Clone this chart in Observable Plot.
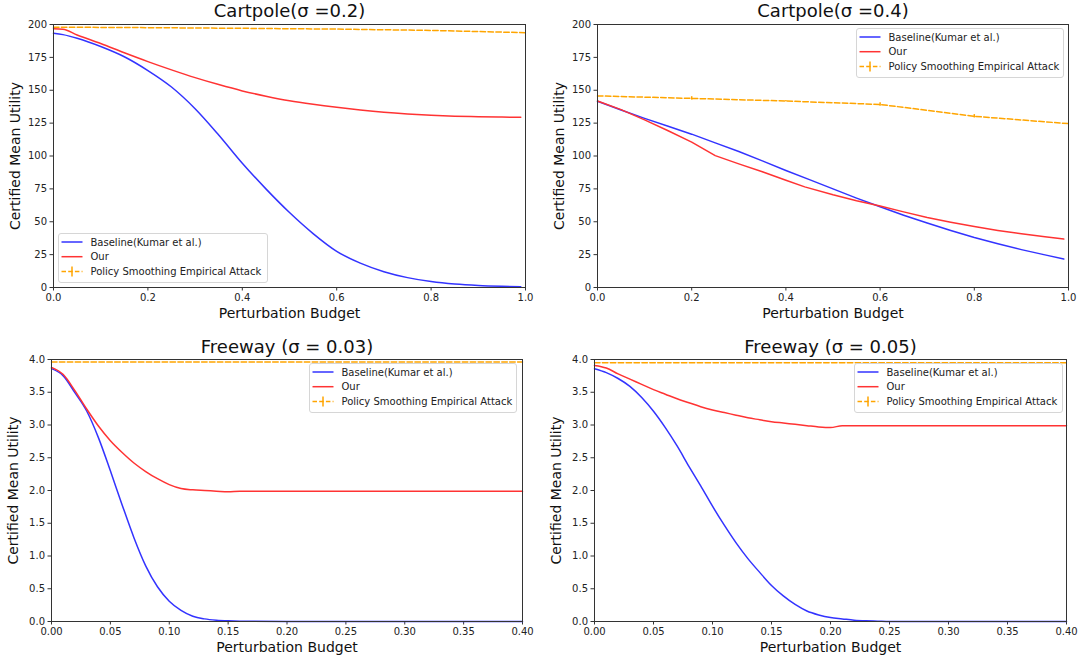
<!DOCTYPE html>
<html>
<head>
<meta charset="utf-8">
<script src="https://cdn.jsdelivr.net/npm/d3@7"></script>
<script src="https://cdn.jsdelivr.net/npm/@observablehq/plot@0.6"></script>
<style>
  html, body { margin: 0; padding: 0; background: #fff; }
  #page { position: relative; width: 1080px; height: 662px; overflow: hidden; background: #fff; font-family: "DejaVu Sans", sans-serif; }
  .panel { position: absolute; }
  .legend { position: absolute; }
</style>
</head>
<body>
<div id="page"></div>
<script>
// ---------------- data ----------------
const legendLabels = ["Baseline(Kumar et al.)", "Our", "Policy Smoothing Empirical Attack"];
const xLabel = "Perturbation Budget";
const yLabel = "Certified Mean Utility";

// Cartpole sigma = 0.2
const cp02Title = "Cartpole(σ =0.2)";
const cp02X = [0, 0.02, 0.05, 0.1, 0.15, 0.2, 0.25, 0.3, 0.35, 0.4, 0.45, 0.5, 0.55, 0.6, 0.65, 0.7, 0.75, 0.8, 0.85, 0.9, 0.95, 0.99];
const cp02Baseline = [193.4, 192.3, 189.6, 183.3, 175.5, 165.0, 152.5, 136, 116, 94.5, 75, 57, 41, 27.5, 18.5, 12, 7.5, 4.5, 2.6, 1.5, 0.9, 0.6];
const cp02Ours = [196.7, 196.4, 192, 185.5, 178.5, 171.8, 165.5, 159.6, 154.3, 149.5, 145.5, 142, 139.3, 137, 135, 133.3, 132, 131, 130.3, 129.9, 129.6, 129.5];
const cp02AttackX = [0, 0.2, 0.4, 0.6, 0.8, 1.0];
const cp02Attack = [198, 197.6, 197.1, 196.5, 195.5, 193.8];
const cp02AttackErr = [0, 0, 0, 0, 0, 0];

// Cartpole sigma = 0.4
const cp04Title = "Cartpole(σ =0.4)";
const cp04X = [0, 0.05, 0.1, 0.15, 0.2, 0.25, 0.3, 0.35, 0.4, 0.45, 0.5, 0.55, 0.6, 0.65, 0.7, 0.75, 0.8, 0.85, 0.9, 0.95, 0.99];
const cp04Baseline = [141.6, 135, 128.6, 122.6, 116.6, 110, 103.4, 96.3, 89, 82, 75, 68, 61.4, 55, 49, 43.3, 38, 33.2, 28.8, 24.8, 21.6];
const cp04OursX = [0, 0.05, 0.1, 0.15, 0.2, 0.25, 0.3, 0.35, 0.4, 0.44, 0.5, 0.55, 0.6, 0.65, 0.7, 0.75, 0.8, 0.85, 0.9, 0.95, 0.99];
const cp04Ours = [141.8, 135.3, 127.5, 119.2, 110.6, 100.3, 94, 88, 81.5, 76.5, 70.5, 66, 62, 57.5, 53.3, 49.7, 46.4, 43.4, 40.8, 38.6, 36.8];
const cp04AttackX = [0, 0.2, 0.4, 0.6, 0.8, 1.0];
const cp04Attack = [145.7, 143.8, 141.8, 139.2, 130.2, 124.6];
const cp04AttackErr = [0, 1.3, 0.5, 1.3, 1.3, 0];

// Freeway sigma = 0.03
const fw03Title = "Freeway (σ = 0.03)";
const fw03X = [0, 0.01, 0.02, 0.03, 0.04, 0.05, 0.06, 0.07, 0.08, 0.09, 0.10, 0.11, 0.12, 0.13, 0.14, 0.15, 0.16, 0.20, 0.25, 0.30, 0.35, 0.40];
const fw03Baseline = [3.86, 3.75, 3.49, 3.21, 2.80, 2.30, 1.78, 1.28, 0.85, 0.53, 0.31, 0.17, 0.08, 0.04, 0.02, 0.01, 0.005, 0, 0, 0, 0, 0];
const fw03Ours = [3.88, 3.77, 3.52, 3.24, 2.98, 2.76, 2.58, 2.42, 2.29, 2.18, 2.09, 2.03, 2.01, 2.0, 1.99, 1.98, 1.99, 1.99, 1.99, 1.99, 1.99, 1.99];
const fw03AttackX = [0, 0.1, 0.2, 0.3, 0.4];
const fw03Attack = [3.96, 3.96, 3.96, 3.96, 3.96];
const fw03AttackErr = [0, 0, 0, 0, 0];

// Freeway sigma = 0.05
const fw05Title = "Freeway (σ = 0.05)";
const fw05X = [0, 0.01, 0.02, 0.03, 0.04, 0.05, 0.06, 0.07, 0.08, 0.09, 0.10, 0.11, 0.12, 0.13, 0.14, 0.15, 0.16, 0.17, 0.18, 0.19, 0.20, 0.21, 0.22, 0.23, 0.24, 0.25, 0.30, 0.35, 0.40];
const fw05Baseline = [3.86, 3.80, 3.71, 3.59, 3.42, 3.21, 2.96, 2.68, 2.37, 2.07, 1.76, 1.47, 1.20, 0.96, 0.75, 0.55, 0.39, 0.26, 0.16, 0.10, 0.06, 0.04, 0.02, 0.01, 0.005, 0, 0, 0, 0];
const fw05Ours = [3.91, 3.87, 3.78, 3.70, 3.62, 3.54, 3.47, 3.40, 3.34, 3.28, 3.23, 3.19, 3.15, 3.11, 3.08, 3.05, 3.03, 3.01, 2.99, 2.97, 2.96, 2.99, 2.99, 2.99, 2.99, 2.99, 2.99, 2.99, 2.99];
const fw05AttackX = [0, 0.1, 0.2, 0.3, 0.4];
const fw05Attack = [3.95, 3.95, 3.95, 3.95, 3.95];
const fw05AttackErr = [0, 0, 0, 0, 0];

// ticks
const cartXTicks = [0, 0.2, 0.4, 0.6, 0.8, 1.0];
const cartYTicks = [0, 25, 50, 75, 100, 125, 150, 175, 200];
const freeXTicks = [0, 0.05, 0.10, 0.15, 0.20, 0.25, 0.30, 0.35, 0.40];
const freeYTicks = [0, 0.5, 1.0, 1.5, 2.0, 2.5, 3.0, 3.5, 4.0];

// ---------------- styles ----------------
const BLUE = "rgb(51,51,255)";
const RED = "rgb(255,51,51)";
const ORANGE = "#ffa500";
const DASH = "5.5,2.4";
const page = document.getElementById("page");

const zip = (xs, ys) => xs.map((x, i) => ({x, y: ys[i]}));

function panel(cfg) {
  const base = zip(cfg.x, cfg.baseline);
  const ours = zip(cfg.oursX || cfg.x, cfg.ours);
  const atk = cfg.attackX.map((x, i) => ({x, y: cfg.attack[i], e: cfg.attackErr[i]}));
  const errs = atk.filter(d => d.e > 0);
  const chart = Plot.plot({
    width: cfg.width, height: cfg.height,
    marginLeft: cfg.ml, marginRight: cfg.mr, marginTop: cfg.mt, marginBottom: cfg.mb,
    style: {fontFamily: "DejaVu Sans", fontSize: "10px", color: "#222", background: "white", overflow: "visible"},
    x: {domain: cfg.xDomain, nice: false},
    y: {domain: cfg.yDomain, nice: false},
    marks: [
      Plot.axisX({ticks: cfg.xTicks, tickFormat: d3.format(cfg.xFmt), tickSize: 3.5, tickPadding: 3, label: null, stroke: "#333", fill: "#222"}),
      Plot.axisY({ticks: cfg.yTicks, tickFormat: d3.format(cfg.yFmt), tickSize: 3.5, tickPadding: 3, label: null, stroke: "#333", fill: "#222"}),
      Plot.line(atk, {x: "x", y: "y", stroke: ORANGE, strokeWidth: 1.5, strokeDasharray: DASH}),
      Plot.ruleX(errs, {x: "x", y1: d => d.y - d.e, y2: d => d.y + d.e, stroke: ORANGE, strokeWidth: 1.5}),
      Plot.line(base, {x: "x", y: "y", stroke: BLUE, strokeWidth: 1.5, curve: cfg.curve}),
      Plot.line(ours, {x: "x", y: "y", stroke: RED, strokeWidth: 1.5, curve: cfg.curve}),
      Plot.frame({stroke: "#333", strokeWidth: 1}),
      Plot.text([cfg.title], {text: d => d, frameAnchor: "top", lineAnchor: "middle", textAnchor: "middle", dy: cfg.titleDy, fontSize: 18, fill: "#111"}),
      Plot.text([xLabel], {text: d => d, frameAnchor: "bottom", lineAnchor: "middle", textAnchor: "middle", dy: 26.5, fontSize: 14, fill: "#111"}),
      Plot.text([yLabel], {text: d => d, frameAnchor: "left", lineAnchor: "middle", textAnchor: "middle", dx: -38, rotate: -90, fontSize: 14, fill: "#111"})
    ]
  });
  chart.classList.add("panel");
  chart.style.left = cfg.left + "px";
  chart.style.top = cfg.top + "px";
  page.appendChild(chart);
}

function legend(left, top, width) {
  const h = 49;
  const ns = "http://www.w3.org/2000/svg";
  const svg = document.createElementNS(ns, "svg");
  svg.setAttribute("width", width + 2);
  svg.setAttribute("height", h + 2);
  svg.setAttribute("class", "legend");
  svg.style.left = left + "px";
  svg.style.top = top + "px";
  const rect = document.createElementNS(ns, "rect");
  rect.setAttribute("x", 0.5); rect.setAttribute("y", 0.5);
  rect.setAttribute("width", width); rect.setAttribute("height", h);
  rect.setAttribute("rx", 2.5);
  rect.setAttribute("fill", "rgba(255,255,255,0.8)");
  rect.setAttribute("stroke", "#d6d6d6");
  svg.appendChild(rect);
  const rows = [9, 23.7, 38.5];
  const colors = [BLUE, RED, ORANGE];
  legendLabels.forEach((lab, i) => {
    const y = rows[i];
    const ln = document.createElementNS(ns, "line");
    ln.setAttribute("x1", 3.5); ln.setAttribute("x2", 24.5);
    ln.setAttribute("y1", y); ln.setAttribute("y2", y);
    ln.setAttribute("stroke", colors[i]); ln.setAttribute("stroke-width", 1.5);
    if (i === 2) ln.setAttribute("stroke-dasharray", "4.5,2.2");
    svg.appendChild(ln);
    if (i === 2) {
      const v = document.createElementNS(ns, "line");
      v.setAttribute("x1", 14); v.setAttribute("x2", 14);
      v.setAttribute("y1", y - 5); v.setAttribute("y2", y + 5);
      v.setAttribute("stroke", colors[i]); v.setAttribute("stroke-width", 1.5);
      svg.appendChild(v);
    }
    const t = document.createElementNS(ns, "text");
    t.setAttribute("x", 32.5); t.setAttribute("y", y + 3.6);
    t.setAttribute("font-family", "DejaVu Sans");
    t.setAttribute("font-size", "10px");
    t.setAttribute("fill", "#222");
    t.textContent = lab;
    svg.appendChild(t);
  });
  page.appendChild(svg);
}

panel({title: cp02Title, left: 0, top: 0, width: 540, height: 331, ml: 53, mr: 15, mt: 24, mb: 44, titleDy: -13, curve: "monotone-x",
  xDomain: [0, 1], yDomain: [0, 200], xTicks: cartXTicks, yTicks: cartYTicks, xFmt: ".1f", yFmt: "d",
  x: cp02X, baseline: cp02Baseline, ours: cp02Ours, attackX: cp02AttackX, attack: cp02Attack, attackErr: cp02AttackErr});
panel({title: cp04Title, left: 540, top: 0, width: 540, height: 331, ml: 57, mr: 12, mt: 24, mb: 44, titleDy: -13, curve: "linear",
  xDomain: [0, 1], yDomain: [0, 200], xTicks: cartXTicks, yTicks: cartYTicks, xFmt: ".1f", yFmt: "d",
  x: cp04X, baseline: cp04Baseline, oursX: cp04OursX, ours: cp04Ours, attackX: cp04AttackX, attack: cp04Attack, attackErr: cp04AttackErr});
panel({title: fw03Title, left: 0, top: 331, width: 540, height: 331, ml: 51, mr: 18, mt: 28, mb: 41, titleDy: -12.5, curve: "monotone-x",
  xDomain: [0, 0.4], yDomain: [0, 4], xTicks: freeXTicks, yTicks: freeYTicks, xFmt: ".2f", yFmt: ".1f",
  x: fw03X, baseline: fw03Baseline, ours: fw03Ours, attackX: fw03AttackX, attack: fw03Attack, attackErr: fw03AttackErr});
panel({title: fw05Title, left: 540, top: 331, width: 540, height: 331, ml: 54, mr: 14, mt: 28, mb: 41, titleDy: -12.5, curve: "monotone-x",
  xDomain: [0, 0.4], yDomain: [0, 4], xTicks: freeXTicks, yTicks: freeYTicks, xFmt: ".2f", yFmt: ".1f",
  x: fw05X, baseline: fw05Baseline, ours: fw05Ours, attackX: fw05AttackX, attack: fw05Attack, attackErr: fw05AttackErr});

legend(58, 233, 209);
legend(856, 28, 207);
legend(309, 363, 207);
legend(854, 363, 208);
</script>
</body>
</html>
